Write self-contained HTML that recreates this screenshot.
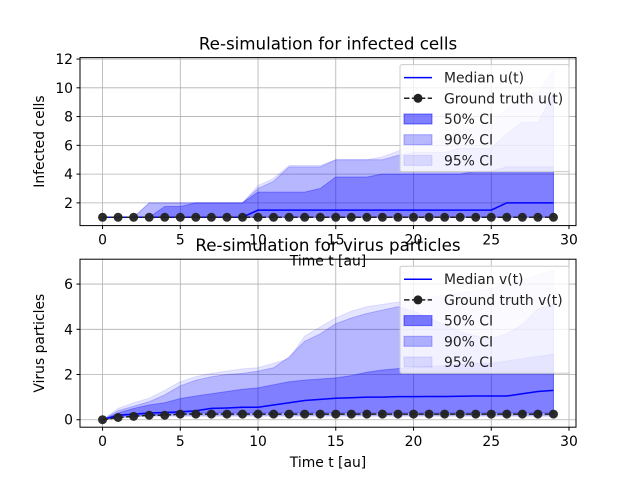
<!DOCTYPE html>
<html><head><meta charset="utf-8"><style>
body{margin:0;background:#fff}
svg{display:block;font-family:"DejaVu Sans","Liberation Sans",sans-serif}
</style></head><body>
<svg id="c" width="640" height="480" viewBox="0 0 640 480"></svg>
<script>
const times=[...Array(30).keys()];
const uMedian=[1,1,1,1,1,1,1,1,1,1,1.5,1.5,1.5,1.5,1.5,1.5,1.5,1.5,1.5,1.5,1.5,1.5,1.5,1.5,1.5,1.5,2,2,2,2];
const uTruth=[1,1,1,1,1,1,1,1,1,1,1,1,1,1,1,1,1,1,1,1,1,1,1,1,1,1,1,1,1,1];
const u50Low=[1,1,1,1,1,1,1,1,1,1,1,1,1,1,1,1,1,1,1,1,1,1,1,1,1,1,1,1,1,1];
const u50High=[1,1,1,1,1.75,1.75,2,2,2,2,2.75,2.75,2.75,2.75,3,3.8,3.8,3.8,4,4,4,4,4,4,4.2,4.2,4.5,4.5,4.5,4.5];
const u90Low=u50Low.slice();
const u90High=[1,1,1,2,2,2,2,2,2,2,3,3.5,4.5,4.5,4.5,5,5,5,5,5.3,5.5,5.5,5.5,5.8,5.8,5.8,6.8,7.6,7.6,9.6];
const u95Low=u50Low.slice();
const u95High=[1,1,1,2,2,2,2,2,2,2,3.2,3.7,4.6,4.6,4.6,5,5,5,5.2,5.6,6,6.2,6.5,7,7.3,7.6,8.5,9.5,9.7,11.2];
const uTicks=[2,4,6,8,10,12];
const vMedian=[0,0.2,0.25,0.3,0.32,0.35,0.4,0.5,0.52,0.55,0.55,0.65,0.75,0.85,0.9,0.95,0.97,1,1,1.02,1.02,1.03,1.03,1.04,1.05,1.05,1.05,1.15,1.25,1.3];
const vTruth=[0,0.1,0.15,0.2,0.2,0.25,0.25,0.25,0.25,0.25,0.25,0.25,0.25,0.25,0.25,0.25,0.25,0.25,0.25,0.25,0.25,0.25,0.25,0.25,0.25,0.25,0.25,0.25,0.25,0.25];
const v50Low=[0,0.15,0.2,0.22,0.25,0.28,0.3,0.3,0.3,0.3,0.3,0.3,0.3,0.3,0.3,0.3,0.3,0.3,0.3,0.3,0.3,0.3,0.3,0.3,0.3,0.3,0.3,0.3,0.3,0.3];
const v50High=[0,0.3,0.5,0.65,0.75,0.94,1.05,1.15,1.25,1.35,1.41,1.55,1.68,1.75,1.8,1.85,1.95,2.1,2.2,2.26,2.3,2.35,2.4,2.45,2.5,2.5,2.6,2.7,2.8,2.9];
const v90Low=[0,0.1,0.15,0.18,0.2,0.2,0.2,0.2,0.2,0.2,0.2,0.2,0.2,0.2,0.2,0.2,0.2,0.2,0.2,0.2,0.2,0.2,0.2,0.2,0.2,0.2,0.2,0.2,0.2,0.2];
const v90High=[0,0.4,0.6,0.8,1.1,1.5,1.75,1.9,2,2.05,2.15,2.3,2.78,3.47,3.8,4.25,4.5,4.7,4.85,5,4.8,4.5,4.2,3.9,3.7,3.6,3.8,4.2,4.9,5.1];
const v95Low=[0,0.08,0.12,0.15,0.15,0.15,0.15,0.15,0.15,0.15,0.15,0.15,0.15,0.15,0.15,0.15,0.15,0.15,0.15,0.15,0.15,0.15,0.15,0.15,0.15,0.15,0.15,0.15,0.15,0.15];
const v95High=[0,0.5,0.75,0.95,1.3,1.68,1.9,2.05,2.15,2.25,2.3,2.5,2.7,3.7,4.1,4.5,4.8,5.0,5.1,5.2,5.3,5.4,5.5,5.6,5.7,5.8,6.0,6.2,6.4,6.6];
const vTicks=[0,2,4,6];
const xTicks=[0,5,10,15,20,25,30];

const svg=document.getElementById('c');
const NS='http://www.w3.org/2000/svg';
function mk(tag,at,parent){const e=document.createElementNS(NS,tag);for(const k in at)e.setAttribute(k,at[k]);(parent||svg).appendChild(e);return e;}
const L=80,R=576;
const FS=13.9;
const xs=t=>L+(t+1.45)/31.9*(R-L);

function panel(o){
  const g=mk('g',{});
  
  
  const ys=v=>o.bot-(v-o.ymin)/(o.ymax-o.ymin)*(o.bot-o.top);
  xTicks.forEach(t=>{const l=mk('line',{x1:xs(t),x2:xs(t),y1:o.top,y2:o.bot,stroke:'#b0b0b0','stroke-width':0.8},g);
    });
  o.yt.forEach(v=>{const l=mk('line',{x1:L,x2:R,y1:ys(v),y2:ys(v),stroke:'#b0b0b0','stroke-width':0.8},g);
    });
  function band(lo,hi,op,nm){
    let d='M'+times.map(t=>xs(t)+','+ys(hi[t])).join('L')+'L'+times.slice().reverse().map(t=>xs(t)+','+ys(lo[t])).join('L')+'Z';
    const p=mk('path',{d:d,fill:'blue','fill-opacity':op,stroke:'blue','stroke-opacity':op,'stroke-width':1},g);
    
  }
  band(o.b95[0],o.b95[1],0.1,'ci-95-band');
  band(o.b90[0],o.b90[1],0.2,'ci-90-band');
  band(o.b50[0],o.b50[1],0.3,'ci-50-band');
  const med=mk('polyline',{points:times.map(t=>xs(t)+','+ys(o.med[t])).join(' '),fill:'none',stroke:'blue','stroke-width':1.5},g);
  
  const gt=mk('polyline',{points:times.map(t=>xs(t)+','+ys(o.truth[t])).join(' '),fill:'none',stroke:'#222','stroke-width':1.5,'stroke-dasharray':'5.5,2.4'},g);
  
  times.forEach(t=>{const c=mk('circle',{cx:xs(t),cy:ys(o.truth[t]),r:4.5,fill:'#222','fill-opacity':0.95},g);
    });
  const fr=mk('rect',{x:L,y:o.top,width:R-L,height:o.bot-o.top,fill:'none',stroke:'#000','stroke-width':1},g);
  
  xTicks.forEach(t=>{mk('line',{x1:xs(t),x2:xs(t),y1:o.bot,y2:o.bot+3.5,stroke:'#000'},g);
    const tx=mk('text',{x:xs(t),y:o.bot+19,'font-size':FS,'text-anchor':'middle'},g);tx.textContent=t;
    });
  o.yt.forEach(v=>{mk('line',{x1:L-3.5,x2:L,y1:ys(v),y2:ys(v),stroke:'#000'},g);
    const tx=mk('text',{x:L-7,y:ys(v)+5,'font-size':FS,'text-anchor':'end'},g);tx.textContent=v;
    });
  const xl=mk('text',{x:328,y:o.bot+40,'font-size':FS,'text-anchor':'middle'},g);xl.textContent='Time t [au]';
  
  const yl=mk('text',{x:0,y:0,'font-size':FS,'text-anchor':'middle',transform:`translate(44,${(o.top+o.bot)/2}) rotate(-90)`},g);yl.textContent=o.ylabel;
  
  const ti=mk('text',{x:328,y:o.top-8,'font-size':16.7,'text-anchor':'middle'},g);ti.textContent=o.title;
  
  const lg=mk('g',{},g);
  
  const lx=400,ly=o.top+7;
  mk('rect',{x:lx,y:ly,width:169,height:107,rx:2,fill:'#fff','fill-opacity':0.8,stroke:'#ccc'},lg);
  const items=[['line','Median '+o.v],['gt','Ground truth '+o.v],[0.5,'50% CI'],[0.28,'90% CI'],[0.1,'95% CI']];
  items.forEach((it,i)=>{const yy=ly+13+i*20.7;
    if(it[0]==='line')mk('line',{x1:lx+4,x2:lx+32,y1:yy,y2:yy,stroke:'blue','stroke-width':1.5},lg);
    else if(it[0]==='gt'){mk('line',{x1:lx+4,x2:lx+32,y1:yy,y2:yy,stroke:'#222','stroke-width':1.5,'stroke-dasharray':'5.5,2.4'},lg);mk('circle',{cx:lx+18,cy:yy,r:4.5,fill:'#222'},lg);}
    else mk('rect',{x:lx+4,y:yy-5,width:28,height:10,fill:'blue','fill-opacity':it[0],stroke:'blue','stroke-opacity':it[0]},lg);
    const tx=mk('text',{x:lx+44,y:yy+5,'font-size':FS,fill:'#222'},lg);tx.textContent=it[1];
    });
}
panel({name:'infected-cells-chart',top:57.6,bot:225.6,ymin:0.42,ymax:12.1,yt:uTicks,med:uMedian,truth:uTruth,
  b50:[u50Low,u50High],b90:[u90Low,u90High],b95:[u95Low,u95High],ylabel:'Infected cells',title:'Re-simulation for infected cells',v:'u(t)'});
panel({name:'virus-particles-chart',top:259.2,bot:427.2,ymin:-0.33,ymax:7.1,yt:vTicks,med:vMedian,truth:vTruth,
  b50:[v50Low,v50High],b90:[v90Low,v90High],b95:[v95Low,v95High],ylabel:'Virus particles',title:'Re-simulation for virus particles',v:'v(t)'});
</script>
</body></html>
